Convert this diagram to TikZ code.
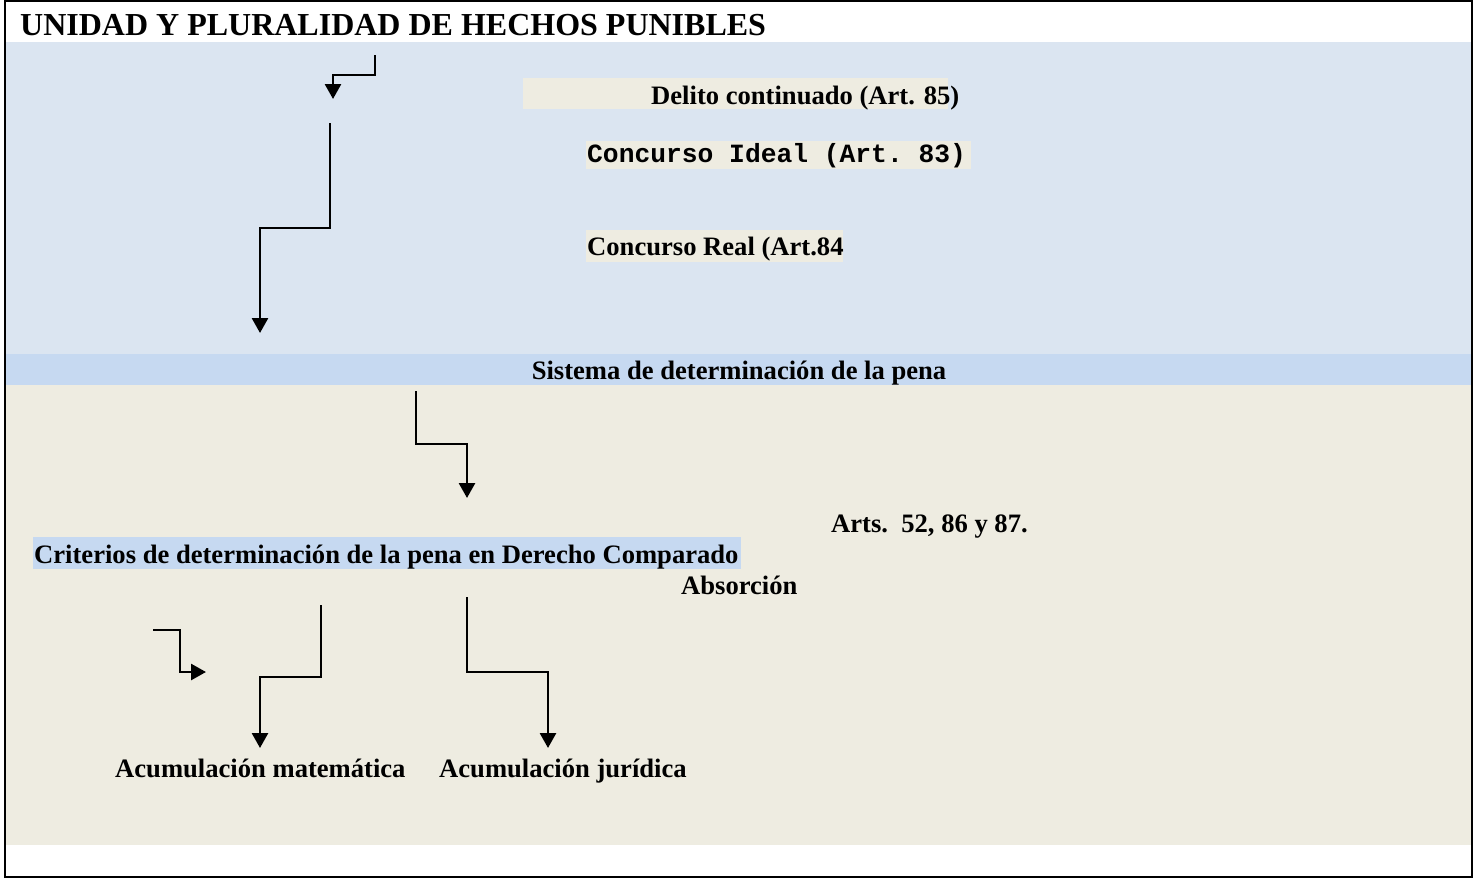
\documentclass[tikz,border=0pt]{standalone}
\usepackage{fontspec}
\setmainfont{Liberation Serif}
\setmonofont{Liberation Mono}
\usetikzlibrary{arrows.meta}
\definecolor{lblue}{HTML}{DBE5F1}
\definecolor{bandblue}{HTML}{C6D9F1}
\definecolor{beige}{HTML}{EEECE1}
\tikzset{
  txt/.style={inner sep=0pt, anchor=base west, font=\fontsize{26.6}{30}\selectfont\bfseries},
  monotxt/.style={inner sep=0pt, anchor=base west, font=\fontsize{26.3}{30}\selectfont\ttfamily\bfseries},
  conn/.style={line width=2.7pt, -{Triangle[length=15pt,width=16pt]}},
}
\begin{document}
\begin{tikzpicture}[x=1pt,y=-1pt]
\useasboundingbox (0,0) rectangle (1474,879);
% background regions
\fill[lblue] (6,42) rectangle (1472,354);
\fill[bandblue] (6,354) rectangle (1472,385);
\fill[beige] (6,385) rectangle (1472,845);
% highlight boxes
\fill[beige] (523,78) rectangle (948,109);
\fill[beige] (586,141) rectangle (971,169);
\fill[beige] (586,230) rectangle (843,262);
\fill[bandblue] (33,537) rectangle (741,569);
% frame
\draw[line width=2pt] (5,1) rectangle (1472,877);
% texts
\node[txt, font=\fontsize{32}{36}\selectfont\bfseries] (title) at (20,35) {UNIDAD Y PLURALIDAD DE HECHOS PUNIBLES};
\node[txt] (delito) at (651,104) {Delito continuado (Art. 85)};
\node[monotxt] (ideal) at (587,162) {Concurso Ideal (Art. 83)};
\node[txt] (real) at (587,255) {Concurso Real (Art.84};
\node[txt, anchor=base] (sistema) at (739,379) {Sistema de determinación de la pena};
\node[txt] (arts) at (831,532) {Arts.\ \ 52, 86 y 87.};
\node[txt] (criterios) at (34,563) {Criterios de determinación de la pena en Derecho Comparado};
\node[txt] (absorcion) at (681,594) {Absorción};
\node[txt] (mate) at (115,777) {Acumulación matemática};
\node[txt] (juri) at (439,777) {Acumulación jurídica};
% arrows
\coordinate (a1s) at (375,55); \coordinate (a1e) at (333,99);
\draw[conn] (a1s) -- (375,75) -| (a1e);
\coordinate (a2s) at (330,123); \coordinate (a2e) at (260,333);
\draw[conn] (a2s) -- (330,228) -| (a2e);
\coordinate (a3s) at (416,391); \coordinate (a3e) at (467,498);
\draw[conn] (a3s) -- (416,444) -| (a3e);
\coordinate (a4s) at (153,630); \coordinate (a4e) at (206,672);
\draw[conn] (a4s) -| (180,672) -- (a4e);
\coordinate (a5s) at (321,605); \coordinate (a5e) at (260,748);
\draw[conn] (a5s) -- (321,677) -| (a5e);
\coordinate (a6s) at (467,597); \coordinate (a6e) at (548,748);
\draw[conn] (a6s) -- (467,672) -| (a6e);
\end{tikzpicture}
\end{document}
